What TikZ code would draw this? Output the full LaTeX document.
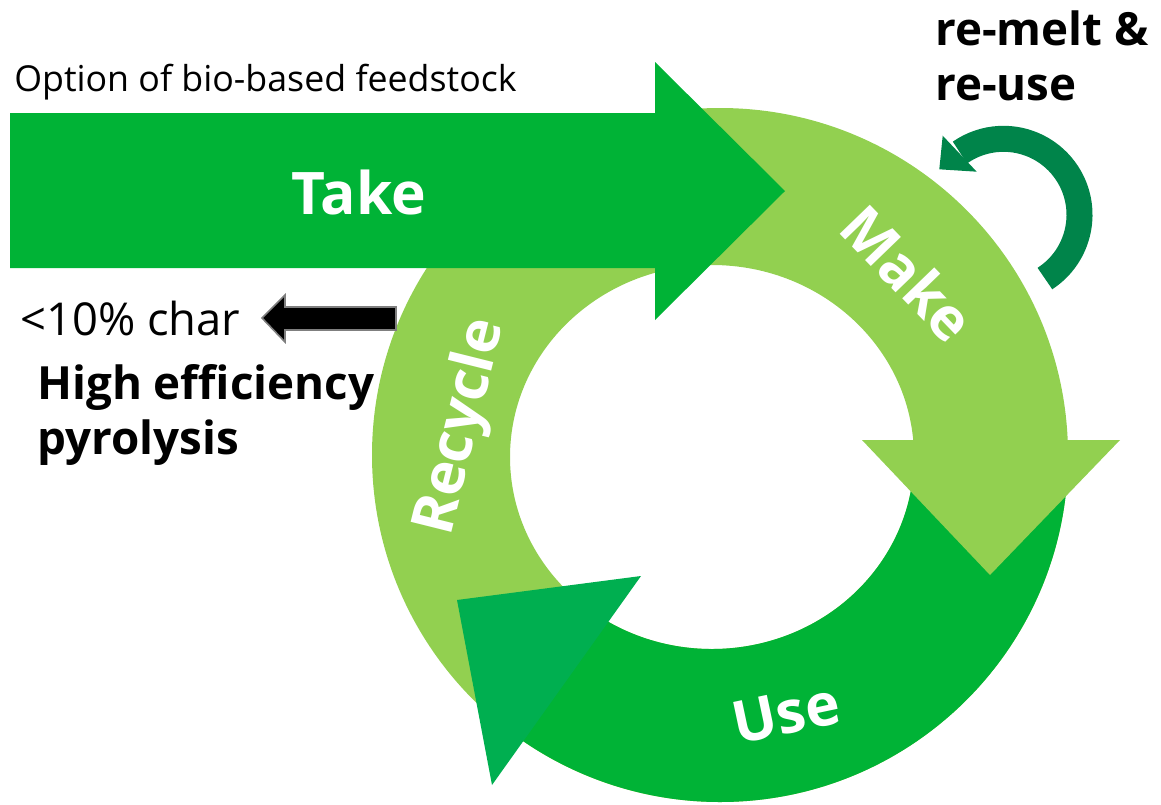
\documentclass[tikz,border=0pt]{standalone}
\usepackage{fontspec}
\setmainfont{Open Sans}
\definecolor{lightg}{HTML}{92D050}
\definecolor{takeg}{HTML}{00B336}
\definecolor{useg}{HTML}{00AF50}
\definecolor{loopg}{HTML}{00844A}
\definecolor{edgegray}{HTML}{7F7F7F}
\begin{document}
\begin{tikzpicture}[x=0.75pt,y=-0.75pt,
  lbl/.style={inner sep=0pt, text=black, anchor=base west},
  ringlbl/.style={inner sep=0pt, text=white, font=\fontsize{44}{50}\selectfont\bfseries},
  boldlbl/.style={lbl, font=\fontsize{34.3}{41}\selectfont\bfseries}]
\useasboundingbox (0,0) rectangle (1161,804);
% light green ring (Make / Recycle)
\path[fill=lightg, even odd rule] (720,455) ellipse [x radius=348, y radius=347]
  (712,457) ellipse [x radius=202, y radius=192];
% Use segment
\fill[takeg] ([shift={(720,455)}]0:348 and 347)
  arc[start angle=0, end angle=125, x radius=348, y radius=347]
  -- ([shift={(712,457)}]125:202 and 192)
  arc[start angle=125, end angle=0, x radius=202, y radius=192] -- cycle;
% Use arrowhead
\fill[useg] (457,600) -- (641,576) -- (492,785) -- cycle;
% Make arrowhead
\fill[lightg] (862,440) -- (1120,440) -- (990,575) -- cycle;
% Take arrow
\fill[takeg] (10,113) -- (655,113) -- (655,62) -- (785,191) -- (655,320)
  -- (655,268) -- (10,268) -- cycle;
% re-melt loop arrow
\draw[loopg, line width=19.5pt] ([shift={(1003.5,214.8)}]57:76)
  arc[start angle=57, end angle=-125, radius=76];
\fill[loopg] (942.7,135.7) -- (939.3,169.3) -- (976.7,171.7) -- cycle;
% char arrow
\filldraw[fill=black, draw=edgegray, line width=1.2pt] (262,318) -- (285,295) -- (285,307)
  -- (396,307) -- (396,330) -- (285,330) -- (285,342) -- cycle;
% labels
\node[ringlbl, anchor=base] (take) at (359,214) {Take};
\node[ringlbl, rotate=-46] (make) at (908,273) {Make};
\node[ringlbl, rotate=76] (recycle) at (462,427) {Recycle};
\node[ringlbl, rotate=12] (use) at (786,713) {Use};
\node[lbl, font=\fontsize{26.8}{30}\selectfont] (opt) at (14,91) {Option of bio-based feedstock};
\node[lbl, font=\fontsize{34}{40}\selectfont] (char) at (20,335) {<10\% char};
\node[boldlbl] (hi1) at (37,399) {High efficiency};
\node[boldlbl] (hi2) at (37,454) {pyrolysis};
\node[boldlbl] (rm1) at (935,45) {re-melt \&};
\node[boldlbl] (rm2) at (935,100) {re-use};
\end{tikzpicture}
\end{document}
